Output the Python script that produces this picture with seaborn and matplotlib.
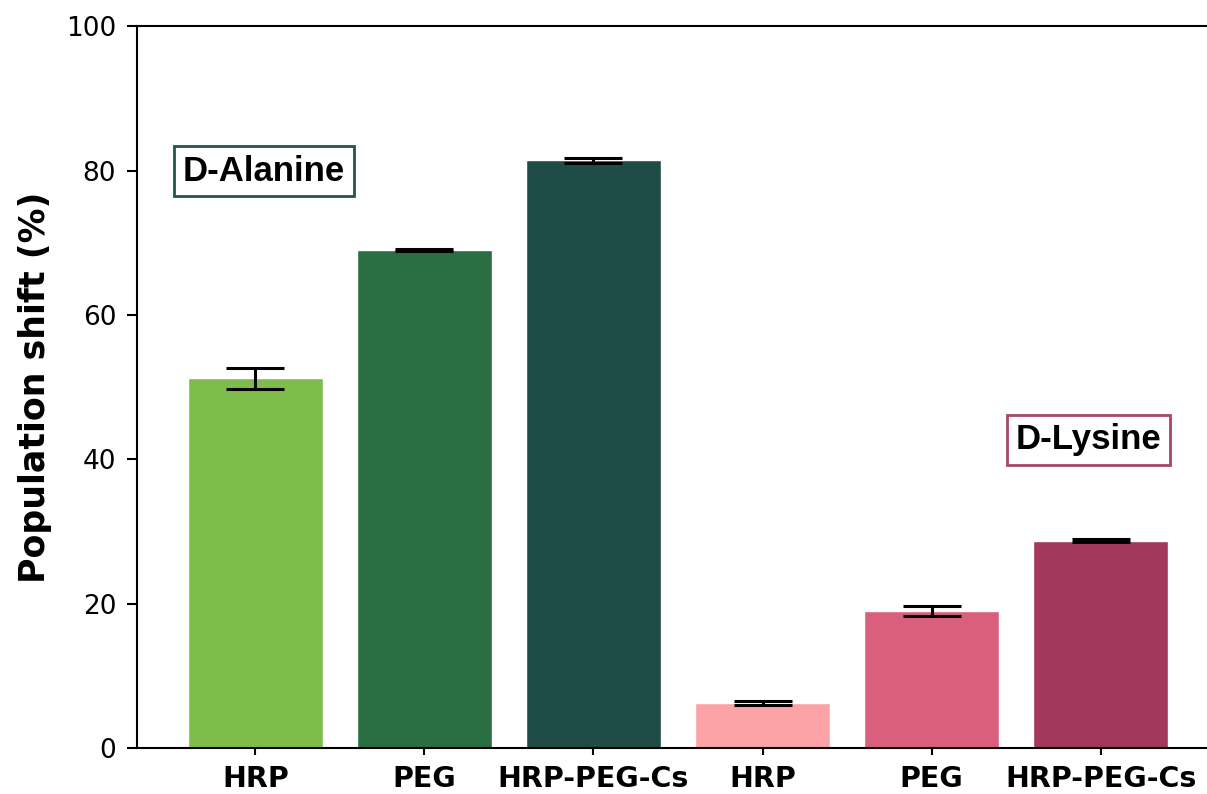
import matplotlib
matplotlib.use("Agg")
import matplotlib.pyplot as plt
import seaborn as sns
import pandas as pd

# Population shift per treatment, for the two amino acids
groups = ["D-Alanine", "D-Alanine", "D-Alanine", "D-Lysine", "D-Lysine", "D-Lysine"]
treatments = ["HRP", "PEG", "HRP-PEG-Cs", "HRP", "PEG", "HRP-PEG-Cs"]
shift = [51.2, 69.0, 81.4, 6.2, 19.0, 28.7]
shift_err = [1.4, 0.1, 0.3, 0.3, 0.7, 0.2]
bar_colors = ["#7fbd4b", "#2a6e44", "#1f4c46", "#fca3a8", "#d95f7c", "#a3385c"]

keys = [f"{g}|{t}" for g, t in zip(groups, treatments)]
df = pd.DataFrame({"key": keys, "shift": shift})

sns.set_style("ticks")
plt.rcParams["font.family"] = ["DejaVu Sans"]
plt.rcParams["text.color"] = "black"
plt.rcParams["axes.labelcolor"] = "black"
plt.rcParams["xtick.color"] = "black"
plt.rcParams["ytick.color"] = "black"

fig = plt.figure(figsize=(12.07, 7.94), dpi=100)
ax = fig.add_axes([0.1135, 0.058, 0.8965, 0.909])

sns.barplot(data=df, x="key", y="shift", hue="key", palette=bar_colors,
            order=keys, hue_order=keys, errorbar=None, legend=False,
            width=0.8, saturation=1, ax=ax)

ax.errorbar(range(len(shift)), shift, yerr=shift_err, fmt="none",
            ecolor="black", elinewidth=2.2, capsize=21, capthick=2.2, zorder=5)

ax.set_xlim(-0.7, 5.7)
ax.set_ylim(0, 100)
ax.set_yticks([0, 20, 40, 60, 80, 100])
ax.set_xticks(range(len(treatments)))
ax.set_xticklabels(treatments, fontsize=20.5, fontweight="bold")
ax.tick_params(axis="y", labelsize=19, length=7, width=1.5, pad=8)
ax.tick_params(axis="x", length=5, width=1.5, pad=7)
ax.set_xlabel("")
ax.set_ylabel("Population shift (%)", fontsize=25, fontweight="bold", labelpad=10)

for side in ["left", "bottom", "top", "right"]:
    ax.spines[side].set_linewidth(1.5)
    ax.spines[side].set_color("black")

ax.text(0.05, 79.9, "D-Alanine", fontsize=25, fontweight="bold",
        family=["Liberation Sans"], ha="center", va="center",
        bbox=dict(boxstyle="square,pad=0.25", facecolor="white",
                  edgecolor="#24554c", linewidth=2))
ax.text(4.93, 42.7, "D-Lysine", fontsize=25, fontweight="bold",
        family=["Liberation Sans"], ha="center", va="center",
        bbox=dict(boxstyle="square,pad=0.25", facecolor="white",
                  edgecolor="#a8456a", linewidth=2))

fig.savefig("out.png", dpi=100)
